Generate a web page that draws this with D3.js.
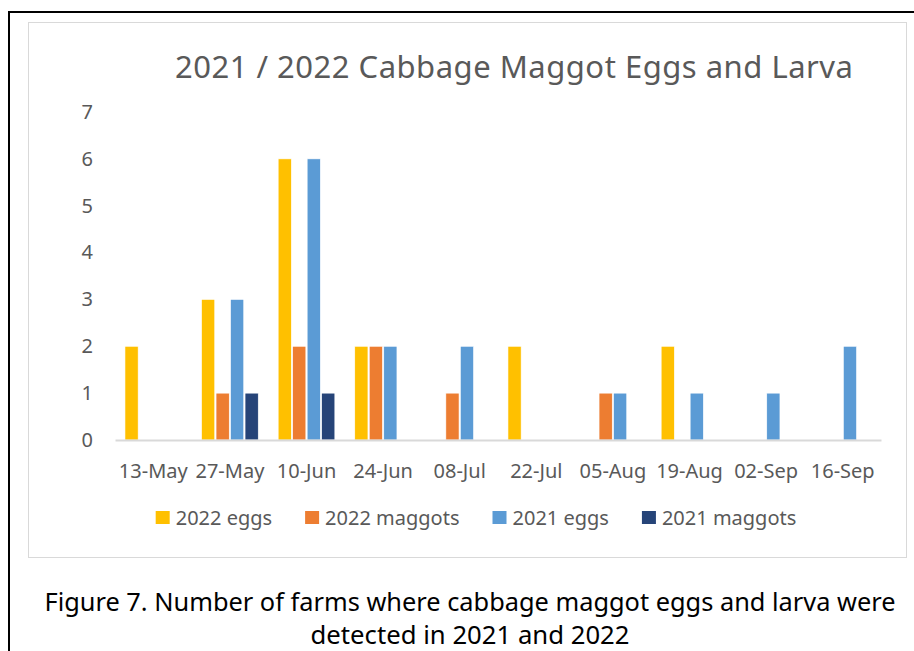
<!DOCTYPE html>
<html>
<head>
<meta charset="utf-8">
<script src="https://cdn.jsdelivr.net/npm/d3@7"></script>
<style>
  html, body { margin: 0; padding: 0; background: #fff; }
  svg { display: block; }
  text { font-family: "Noto Sans", "Open Sans", sans-serif; }
</style>
</head>
<body>
<script>
// Sampling dates (x axis categories)
const categories = ["13-May", "27-May", "10-Jun", "24-Jun", "08-Jul", "22-Jul", "05-Aug", "19-Aug", "02-Sep", "16-Sep"];

// Series names and colours
const seriesNames = ["2022 eggs", "2022 maggots", "2021 eggs", "2021 maggots"];
const seriesColors = ["#FFC000", "#ED7D31", "#5B9BD5", "#264478"];

// Number of farms with detections, per date
const eggs2022    = [2, 3, 6, 2, 0, 2, 0, 2, 0, 0];
const maggots2022 = [0, 1, 2, 2, 1, 0, 1, 0, 0, 0];
const eggs2021    = [0, 3, 6, 2, 2, 0, 1, 1, 1, 2];
const maggots2021 = [0, 1, 1, 0, 0, 0, 0, 0, 0, 0];

const yTicks = [0, 1, 2, 3, 4, 5, 6, 7];

const titleText = "2021 / 2022 Cabbage Maggot Eggs and Larva";
const captionLines = [
  "Figure 7. Number of farms where cabbage maggot eggs and larva were",
  "detected in 2021 and 2022"
];

const seriesValues = [eggs2022, maggots2022, eggs2021, maggots2021];

const W = 914, H = 651;
const svg = d3.select("body").append("svg").attr("width", W).attr("height", H);

// Page frame (black) and chart area frame (light grey)
svg.append("path")
  .attr("d", "M9,651 V12 H914")
  .attr("fill", "none").attr("stroke", "#000").attr("stroke-width", 2);
svg.append("rect")
  .attr("x", 28.5).attr("y", 22.5).attr("width", 878).attr("height", 535)
  .attr("fill", "#fff").attr("stroke", "#d9d9d9").attr("stroke-width", 1);

// Title
svg.append("text")
  .attr("x", 514).attr("y", 78)
  .attr("text-anchor", "middle")
  .attr("font-size", 31).attr("fill", "#595959")
  .attr("textLength", 678).attr("lengthAdjust", "spacing")
  .text(titleText);

// Scales
const x0 = d3.scaleBand().domain(categories).range([115, 881])
  .paddingInner(0.26).paddingOuter(0.13);
const x1 = d3.scaleBand().domain(seriesNames).range([0, x0.bandwidth()])
  .paddingInner(0.09);
const y = d3.scaleLinear().domain([0, 7]).range([440, 112]);

// Y axis labels (no axis line, no gridlines)
const yAxis = svg.append("g").attr("transform", "translate(93,0)")
  .call(d3.axisLeft(y).tickValues(yTicks).tickSize(0).tickPadding(0).tickFormat(d3.format("d")));
yAxis.select(".domain").remove();
yAxis.selectAll("text")
  .attr("font-size", 20).attr("fill", "#595959")
  .attr("font-family", "\"Noto Sans\", sans-serif");

// Bars
const rows = categories.map((c, i) => ({
  cat: c,
  vals: seriesNames.map((s, k) => ({ s, k, v: seriesValues[k][i] }))
}));

const groups = svg.append("g").selectAll("g").data(rows).join("g")
  .attr("transform", d => `translate(${x0(d.cat)},0)`);
groups.selectAll("rect").data(d => d.vals.filter(e => e.v > 0)).join("rect")
  .attr("x", d => x1(d.s))
  .attr("width", x1.bandwidth())
  .attr("y", d => y(d.v))
  .attr("height", d => y(0) - y(d.v))
  .attr("fill", d => seriesColors[d.k])
  .attr("stroke", "#fff").attr("stroke-width", 0.6);

// X axis
const xAxis = svg.append("g").attr("transform", `translate(0,${y(0)})`)
  .call(d3.axisBottom(x0).tickSize(0).tickPadding(24));
xAxis.select(".domain").attr("stroke", "#d9d9d9").attr("stroke-width", 2);
xAxis.selectAll("text")
  .attr("font-size", 20).attr("fill", "#595959")
  .attr("font-family", "\"Noto Sans\", sans-serif");

// Legend
const legend = svg.append("g");
const items = legend.selectAll("g").data(seriesNames).join("g");
items.append("rect")
  .attr("width", 14).attr("height", 13).attr("y", 511)
  .attr("fill", (d, i) => seriesColors[i]);
items.append("text")
  .attr("x", 20).attr("y", 525)
  .attr("font-size", 20).attr("fill", "#595959")
  .text(d => d);
let cursor = 0;
const offsets = [];
items.each(function () {
  const w = 20 + this.querySelector("text").getComputedTextLength();
  offsets.push(cursor);
  cursor += w + 33;
});
const legendWidth = cursor - 33;
const legendStart = 476 - legendWidth / 2;
items.attr("transform", (d, i) => `translate(${legendStart + offsets[i]},0)`);

// Caption
svg.selectAll(".caption").data(captionLines).join("text")
  .attr("class", "caption")
  .attr("x", 470).attr("y", (d, i) => 611 + i * 33)
  .attr("text-anchor", "middle")
  .attr("font-size", 25.5).attr("fill", "#000")
  .attr("textLength", (d, i) => i === 0 ? 851 : 319)
  .attr("lengthAdjust", "spacingAndGlyphs")
  .text(d => d);
</script>
</body>
</html>
